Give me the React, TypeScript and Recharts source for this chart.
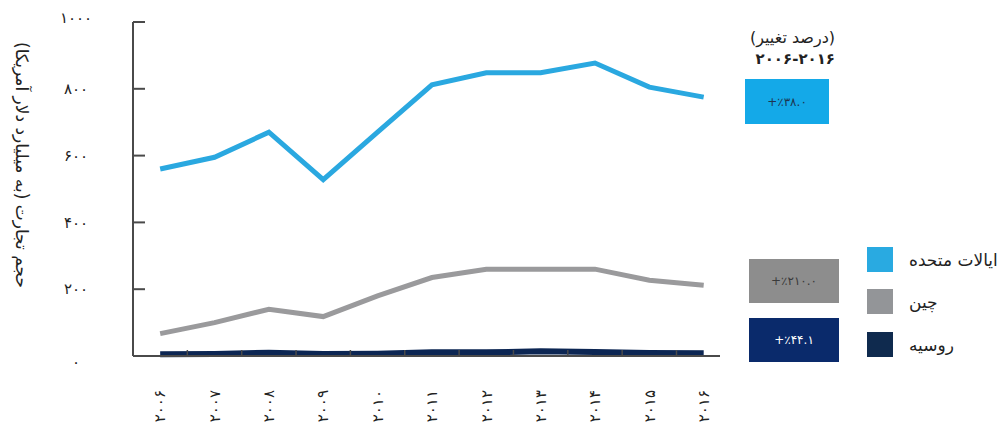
import React from 'react';
import { LineChart, Line, XAxis, YAxis } from 'recharts';

const years = [2006, 2007, 2008, 2009, 2010, 2011, 2012, 2013, 2014, 2015, 2016];
const yearLabels = ['۲۰۰۶', '۲۰۰۷', '۲۰۰۸', '۲۰۰۹', '۲۰۱۰', '۲۰۱۱', '۲۰۱۲', '۲۰۱۳', '۲۰۱۴', '۲۰۱۵', '۲۰۱۶'];
const usValues = [560, 595, 670, 528, 670, 812, 848, 848, 877, 805, 775];
const chinaValues = [67, 100, 140, 118, 180, 235, 260, 260, 260, 227, 212];
const russiaValues = [5, 6, 10, 6, 7, 11, 11, 14, 12, 9, 8];
const yTicks = [0, 200, 400, 600, 800, 1000];
const yTickLabels = ['۰', '۲۰۰', '۴۰۰', '۶۰۰', '۸۰۰', '۱۰۰۰'];
const seriesNames = ['ایالات متحده', 'چین', 'روسیه'];
const seriesKeys = ['us', 'china', 'russia'];
const lineColors = ['#2aa8e0', '#9a9a9c', '#0c2653'];
const swatchColors = ['#29aae1', '#939598', '#0f2a4e'];
const changeLabels = ['+٪۳۸.۰', '+٪۲۱۰.۰', '+٪۴۴.۱'];
const boxColors = ['#14a9e8', '#8d8d8d', '#0a2a6b'];
const boxTextColors = ['#1d3550', '#3a3a3a', '#ffffff'];
const yAxisTitle = 'حجم تجارت (به میلیارد دلار آمریکا)';
const headerLine1 = '(درصد تغییر)';
const headerLine2 = '۲۰۰۶-۲۰۱۶';

const data = years.map((year, i) => ({
  year,
  us: usValues[i],
  china: chinaValues[i],
  russia: russiaValues[i],
}));

const xTicks: number[] = [];
years.forEach((y, i) => {
  xTicks.push(y);
  if (i < years.length - 1) xTicks.push(y + 0.5);
});

const FONT = '"DejaVu Sans", sans-serif';
const AXIS_COLOR = '#4a4a4a';
const Y_TICK_MARGIN = 59;

const YTick = (props: any) => {
  const { x, y, payload } = props;
  const i = yTicks.indexOf(payload.value);
  const ax = x + Y_TICK_MARGIN;
  const dyOff = payload.value === 0 ? 6 : payload.value === 1000 ? -4 : 0;
  return (
    <g>
      <text x={x + 2} y={y + dyOff} dy="0.35em" textAnchor="middle" fontSize={15} letterSpacing={3} fill="#222" fontFamily={FONT}>
        {yTickLabels[i]}
      </text>
      {payload.value > 0 && <line x1={ax} x2={ax + 12} y1={y} y2={y} stroke={AXIS_COLOR} strokeWidth={2} />}
    </g>
  );
};

const XTick = (props: any) => {
  const { x, y, payload } = props;
  const v = payload.value;
  if (Number.isInteger(v)) {
    const i = years.indexOf(v);
    const ty = y + 34;
    return (
      <text
        x={x}
        y={ty}
        dy="0.35em"
        textAnchor="end"
        transform={`rotate(-90 ${x} ${ty})`}
        fontSize={15}
        letterSpacing={3}
        fill="#222"
        fontFamily={FONT}
      >
        {yearLabels[i]}
      </text>
    );
  }
  return <line x1={x} x2={x} y1={y} y2={y - 6} stroke={AXIS_COLOR} strokeWidth={1.5} />;
};

const YLabel = (props: any) => {
  const vb = props.viewBox || { x: 0, y: 14, width: 125, height: 334 };
  const cx = vb.x + 14;
  const cy = vb.y + vb.height / 2 - 24;
  return (
    <text
      x={cx}
      y={cy}
      textAnchor="middle"
      dy="0.35em"
      transform={`rotate(90 ${cx} ${cy})`}
      fontSize={17}
      fill="#222"
      fontFamily={FONT}
    >
      {yAxisTitle}
    </text>
  );
};

export default function App() {
  return (
    <div style={{ position: 'relative', width: 990, height: 426, fontFamily: FONT }}>
      <LineChart width={990} height={426} data={data} margin={{ top: 14, right: 278, bottom: 18, left: 0 }}>
        <XAxis
          dataKey="year"
          type="number"
          domain={[2005.5, 2016.3]}
          ticks={xTicks}
          interval={0}
          tick={<XTick />}
          tickLine={false}
          tickSize={0}
          tickMargin={0}
          height={60}
          axisLine={{ stroke: AXIS_COLOR, strokeWidth: 2 }}
          allowDataOverflow
        />
        <YAxis
          type="number"
          domain={[0, 1000]}
          ticks={yTicks}
          interval={0}
          width={125}
          tick={<YTick />}
          tickLine={false}
          tickSize={0}
          tickMargin={Y_TICK_MARGIN}
          axisLine={{ stroke: AXIS_COLOR, strokeWidth: 2 }}
          label={<YLabel />}
        />
        {seriesKeys.map((k, i) => (
          <Line
            key={k}
            dataKey={k}
            name={seriesNames[i]}
            type="linear"
            stroke={lineColors[i]}
            strokeWidth={i === 2 ? 6 : 5}
            dot={false}
            activeDot={false}
            isAnimationActive={false}
          />
        ))}
      </LineChart>

      <div style={{ position: 'absolute', right: 990 - 827, top: 19, textAlign: 'right', color: '#222', direction: 'rtl' }}>
        <div style={{ fontSize: 16, lineHeight: '22px' }}>{headerLine1}</div>
        <div style={{ fontSize: 15, lineHeight: '20px', fontWeight: 'bold', direction: 'ltr', letterSpacing: 3 }}>{headerLine2}</div>
      </div>

      {changeLabels.map((lbl, i) => {
        const pos = [
          { left: 737, top: 71, width: 84, height: 45 },
          { left: 741, top: 251, width: 90, height: 44 },
          { left: 741, top: 310, width: 90, height: 44 },
        ][i];
        return (
          <div
            key={lbl}
            style={{
              position: 'absolute',
              ...pos,
              background: boxColors[i],
              color: boxTextColors[i],
              display: 'flex',
              alignItems: 'center',
              justifyContent: 'center',
              fontSize: 12,
              direction: 'ltr',
            }}
          >
            {lbl}
          </div>
        );
      })}

      {seriesNames.map((name, i) => (
        <div
          key={name}
          style={{
            position: 'absolute',
            left: 859,
            top: [239, 281, 324][i],
            height: 25,
            display: 'flex',
            alignItems: 'center',
            whiteSpace: 'nowrap',
          }}
        >
          <div style={{ width: 26, height: 25, background: swatchColors[i] }} />
          <div style={{ marginLeft: 16, fontSize: 17, color: '#222', direction: 'rtl' }}>{name}</div>
        </div>
      ))}
    </div>
  );
}
